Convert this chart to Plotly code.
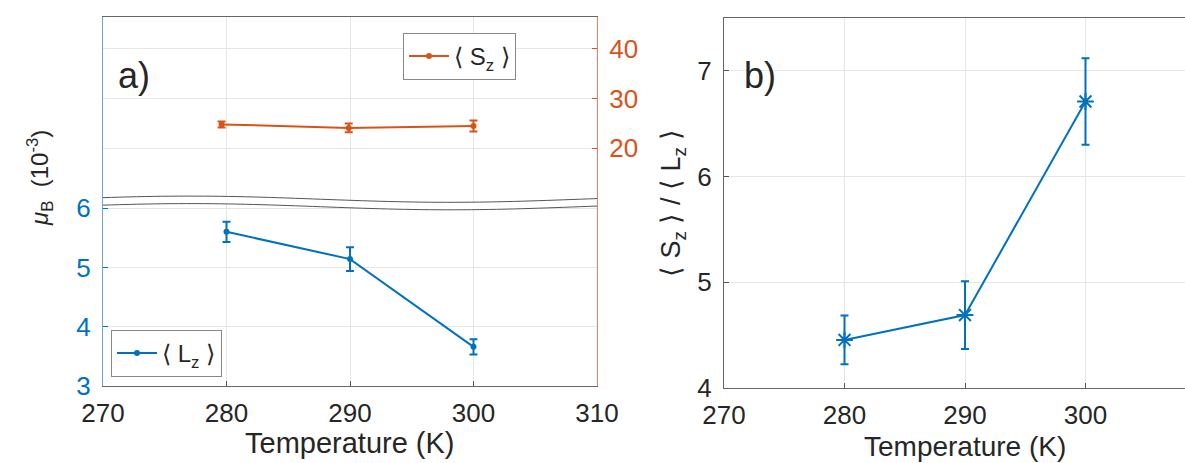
import numpy as np
import plotly.graph_objects as go

# ---------------- data ----------------
temp_lz = [280, 290, 300]
lz_vals = [5.60, 5.14, 3.66]
lz_err = [0.17, 0.20, 0.13]

temp_sz = [279.6, 289.9, 300.0]
sz_vals = [24.8, 24.1, 24.5]
sz_err = [0.6, 0.9, 1.1]

temp_ratio = [280, 290, 300]
ratio_vals = [4.455, 4.69, 6.71]
ratio_err = [0.23, 0.32, 0.41]

x_ticks = [270, 280, 290, 300, 310]
lz_ticks = [3, 4, 5, 6]
sz_ticks = [20, 30, 40]
ratio_ticks = [4, 5, 6, 7]

BLUE = "#0072BD"
ORANGE = "#D95319"
GRID = "#e6e6e6"
FONT = "Liberation Sans, Arial, sans-serif"
W, H = 1185, 463

def px(x):
    return x / W

def py(y):
    return 1 - y / H

fig = go.Figure()

fig.add_trace(go.Scatter(
    x=temp_lz, y=lz_vals, mode="lines+markers", name="⟨ L<sub>z</sub> ⟩",
    line=dict(color=BLUE, width=2), marker=dict(color=BLUE, size=6),
    error_y=dict(type="data", array=lz_err, color=BLUE, thickness=2, width=4),
    xaxis="x", yaxis="y", legend="legend2"))

fig.add_trace(go.Scatter(
    x=temp_sz, y=sz_vals, mode="lines+markers", name="⟨ S<sub>z</sub> ⟩",
    line=dict(color=ORANGE, width=2), marker=dict(color=ORANGE, size=6),
    error_y=dict(type="data", array=sz_err, color=ORANGE, thickness=2, width=4),
    xaxis="x", yaxis="y2", legend="legend"))

fig.add_trace(go.Scatter(
    x=temp_ratio, y=ratio_vals, mode="lines+markers", showlegend=False,
    line=dict(color=BLUE, width=2),
    marker=dict(color=BLUE, size=14, symbol="asterisk-open", line=dict(color=BLUE, width=2)),
    error_y=dict(type="data", array=ratio_err, color=BLUE, thickness=2, width=4),
    xaxis="x2", yaxis="y3"))

# panel geometry (pixels)
a_left, a_right, a_top, a_bot = 103, 597, 17, 386
b_left, b_top, b_bot = 724, 18, 388
lz_range = [3, 3 + (a_bot - a_top) / 59.3]
sz_range = [20 - (a_bot - 148) / 4.97, 40 + (49 - a_top) / 4.97]
b_range_x = [270, 270 + (W - b_left) / 12.05]

TS = 26
tickfont = dict(family=FONT, size=TS, color="#262626")

common = dict(ticks="inside", ticklen=5, showgrid=True, gridcolor=GRID,
              zeroline=False, automargin=False)

fig.update_layout(
    width=W, height=H, margin=dict(l=0, r=0, t=0, b=0, autoexpand=False),
    paper_bgcolor="white", plot_bgcolor="white",
    font=dict(family=FONT, size=24, color="#262626"),
    xaxis=dict(domain=[px(a_left), px(a_right)], range=[270, 310], tickvals=x_ticks,
               tickcolor="#555", showline=True, linecolor="#666", mirror=True,
               tickfont=tickfont, ticklabelstandoff=4, anchor="y", **common),
    yaxis=dict(domain=[py(a_bot), py(a_top)], range=lz_range, tickvals=lz_ticks,
               tickcolor=BLUE, showline=True, linecolor="rgba(0,114,189,0.6)",
               tickfont=dict(family=FONT, size=TS, color=BLUE),
               ticklabelstandoff=6, anchor="x", **common),
    yaxis2=dict(range=sz_range, tickvals=sz_ticks, overlaying="y", side="right",
                tickcolor=ORANGE, showline=True, linecolor="rgba(217,83,25,0.7)",
                tickfont=dict(family=FONT, size=TS, color=ORANGE),
                ticklabelstandoff=6, anchor="x", **common),
    xaxis2=dict(domain=[px(b_left), 1.0], range=b_range_x, tickvals=x_ticks,
                tickcolor="#555", showline=True, linecolor="#666", mirror=True,
                tickfont=tickfont, ticklabelstandoff=4, anchor="y3", **common),
    yaxis3=dict(domain=[py(b_bot), py(b_top)], range=[4, 7.5], tickvals=ratio_ticks,
                tickcolor="#555", showline=True, linecolor="#666", tickfont=tickfont,
                ticklabelstandoff=6, anchor="x2", **common),
    legend=dict(x=px(516), y=py(33), xanchor="right", yanchor="top",
                bgcolor="white", bordercolor="#888", borderwidth=1,
                font=dict(family=FONT, size=24, color="#262626"), itemwidth=40),
    legend2=dict(x=px(111), y=py(330), xanchor="left", yanchor="top",
                 bgcolor="white", bordercolor="#888", borderwidth=1,
                 font=dict(family=FONT, size=24, color="#262626"), itemwidth=40),
)

# axis-break decoration (two wavy lines with white gap)
wx = np.linspace(a_left, a_right, 60)
wave = -3.1 * np.cos(2 * np.pi * (wx - 190) / 520)
top_px = 199.2 + wave
bot_px = 206.7 + wave
xd = 270 + (wx - a_left) / 12.35
def to_y(p):
    return 3 + (a_bot - p) / 59.3
top_y = to_y(top_px)
bot_y = to_y(bot_px)

def path_line(xs, ys):
    return "M " + " L ".join(f"{a},{b}" for a, b in zip(xs, ys))

band = path_line(xd, top_y) + " L " + " L ".join(
    f"{a},{b}" for a, b in zip(xd[::-1], bot_y[::-1])) + " Z"
fig.add_shape(type="path", path=band, xref="x", yref="y", fillcolor="white",
              line=dict(width=0), layer="between")
fig.add_shape(type="path", path=path_line(xd, top_y), xref="x", yref="y",
              line=dict(color="#555", width=1))
fig.add_shape(type="path", path=path_line(xd, bot_y), xref="x", yref="y",
              line=dict(color="#555", width=1))

# titles and panel labels
ann = [
    dict(text="a)", x=px(134), y=py(76), size=36, angle=0),
    dict(text="b)", x=px(760), y=py(76), size=36, angle=0),
    dict(text="Temperature (K)", x=px(350), y=py(443), size=29, angle=0),
    dict(text="Temperature (K)", x=px(965), y=py(446), size=28, angle=0),
    dict(text="<i>μ</i><sub>B</sub>  (10<sup>-3</sup>)", x=px(40), y=py(178), size=24, angle=-90),
    dict(text="⟨ S<sub>z</sub> ⟩ / ⟨ L<sub>z</sub> ⟩", x=px(673), y=py(203), size=27, angle=-90),
]
for a in ann:
    fig.add_annotation(text=a["text"], x=a["x"], y=a["y"], xref="paper", yref="paper",
                       showarrow=False, textangle=a["angle"], xanchor="center", yanchor="middle",
                       font=dict(family=FONT, size=a["size"], color="#262626"))

fig.write_html("out.html", config={"displayModeBar": False},
               post_script="document.body.style.margin='0px';")
